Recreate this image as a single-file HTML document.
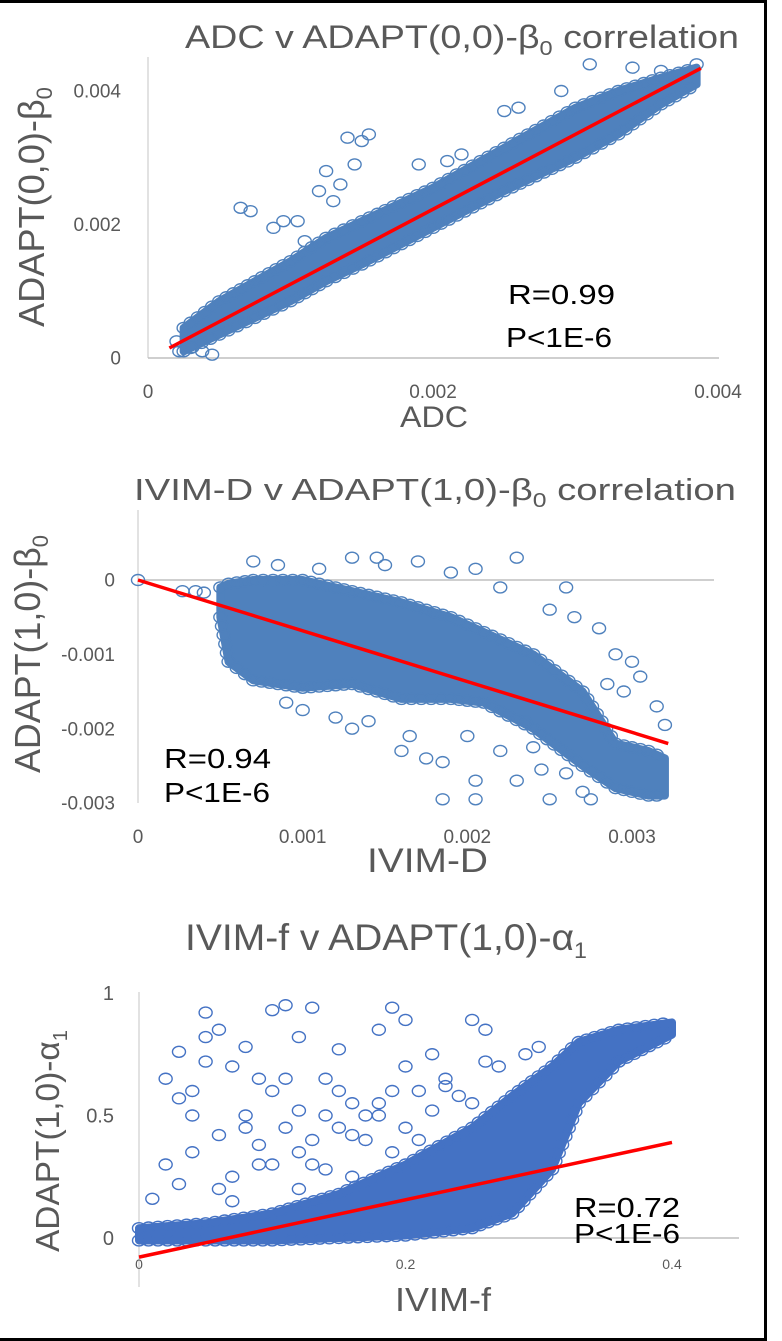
<!DOCTYPE html>
<html><head><meta charset="utf-8"><style>
html,body{margin:0;padding:0;background:#fff;}
svg{display:block;font-family:"Liberation Sans",sans-serif;}
</style></head><body>
<svg id="fig" width="782" height="1341" viewBox="0 0 782 1341" xmlns="http://www.w3.org/2000/svg">
<rect x="0" y="0" width="782" height="1341" fill="#fff"/>
<path d="M0 1.5H765.5V1339.5H0" fill="none" stroke="#000" stroke-width="3"/>

<g>
<text x="185" y="48" font-size="32" fill="#595959" textLength="554" lengthAdjust="spacingAndGlyphs">ADC v ADAPT(0,0)-β<tspan font-size="20" dy="7">0</tspan><tspan dy="-7"> correlation</tspan></text>
<line x1="148" y1="57" x2="148" y2="358" stroke="#d9d9d9" stroke-width="1.5"/>
<line x1="148" y1="358" x2="719" y2="358" stroke="#bfbfbf" stroke-width="1.5"/>
<g id="c1marks"></g>
<g id="c1ticks" fill="#595959" font-size="18"></g>
<text x="400" y="427" font-size="30" fill="#595959" textLength="68" lengthAdjust="spacingAndGlyphs">ADC</text>
<text transform="translate(44,327) rotate(-90)" font-size="36" fill="#595959" textLength="240" lengthAdjust="spacingAndGlyphs">ADAPT(0,0)-β<tspan font-size="22" dy="8">0</tspan></text>
<text x="508" y="304" font-size="28" fill="#000" textLength="107" lengthAdjust="spacingAndGlyphs">R=0.99</text>
<text x="506" y="347" font-size="28" fill="#000" textLength="106" lengthAdjust="spacingAndGlyphs">P&lt;1E-6</text>
</g>

<g>
<text x="134" y="500" font-size="31" fill="#595959" textLength="602" lengthAdjust="spacingAndGlyphs">IVIM-D v ADAPT(1,0)-β<tspan font-size="20" dy="7">0</tspan><tspan dy="-7"> correlation</tspan></text>
<line x1="138" y1="510" x2="138" y2="803" stroke="#d9d9d9" stroke-width="1.5"/>
<line x1="138" y1="580" x2="714" y2="580" stroke="#bfbfbf" stroke-width="1.5"/>
<g id="c2marks"></g>
<g id="c2ticks" fill="#595959" font-size="18"></g>
<text x="367" y="872" font-size="34" fill="#595959" textLength="121" lengthAdjust="spacingAndGlyphs">IVIM-D</text>
<text transform="translate(40,773) rotate(-90)" font-size="36" fill="#595959" textLength="238" lengthAdjust="spacingAndGlyphs">ADAPT(1,0)-β<tspan font-size="22" dy="8">0</tspan></text>
<text x="164" y="768" font-size="28" fill="#000" textLength="107" lengthAdjust="spacingAndGlyphs">R=0.94</text>
<text x="164" y="802" font-size="28" fill="#000" textLength="106" lengthAdjust="spacingAndGlyphs">P&lt;1E-6</text>
</g>

<g>
<text x="185" y="950" font-size="37" fill="#595959" textLength="402" lengthAdjust="spacingAndGlyphs">IVIM-f v ADAPT(1,0)-α<tspan font-size="22" dy="8">1</tspan></text>
<line x1="139" y1="992" x2="139" y2="1287" stroke="#d9d9d9" stroke-width="1.5"/>
<line x1="139" y1="1238" x2="739" y2="1238" stroke="#bfbfbf" stroke-width="1.5"/>
<g id="c3marks"></g>
<g id="c3ticks" fill="#595959"></g>
<text x="395" y="1311" font-size="33" fill="#595959" textLength="96" lengthAdjust="spacingAndGlyphs">IVIM-f</text>
<text transform="translate(59,1252) rotate(-90)" font-size="33" fill="#595959" textLength="222" lengthAdjust="spacingAndGlyphs">ADAPT(1,0)-α<tspan font-size="20" dy="8">1</tspan></text>
<text x="574" y="1217" font-size="28" fill="#000" textLength="106" lengthAdjust="spacingAndGlyphs">R=0.72</text>
<text x="574" y="1243" font-size="28" fill="#000" textLength="106" lengthAdjust="spacingAndGlyphs">P&lt;1E-6</text>
</g>
</svg>
<script>
var c1XTicks = [0, 0.002, 0.004];
var c1XTickLabels = ["0", "0.002", "0.004"];
var c1YTicks = [0, 0.002, 0.004];
var c1YTickLabels = ["0", "0.002", "0.004"];
var c1BandX  = [0.25, 0.5, 0.75, 1.0, 1.25, 1.5, 2.0, 2.5, 3.0, 3.3, 3.6, 3.85];
var c1BandLo = [0.1, 0.35, 0.6, 0.85, 1.15, 1.4, 1.95, 2.5, 3.0, 3.35, 3.8, 4.1];
var c1BandHi = [0.45, 0.85, 1.15, 1.45, 1.8, 2.05, 2.55, 3.15, 3.75, 4.0, 4.2, 4.35];
var c1OutX = [0.2, 0.3, 0.45, 0.38, 0.22, 0.65, 0.72, 0.95, 1.05, 0.88, 1.2, 1.25, 1.35, 1.4, 1.55, 1.5, 1.3, 1.45, 1.9, 2.1, 2.5, 2.6, 2.9, 3.1, 3.4, 3.6, 3.7, 3.85, 2.2, 1.1];
var c1OutY = [0.25, 0.15, 0.05, 0.1, 0.1, 2.25, 2.2, 2.05, 2.05, 1.95, 2.5, 2.8, 2.6, 3.3, 3.35, 3.25, 2.35, 2.9, 2.9, 2.95, 3.7, 3.75, 4.0, 4.4, 4.35, 4.3, 4.15, 4.4, 3.05, 1.75];
var c1Fit = [[0.15, 0.15], [3.88, 4.34]];

var c2XTicks = [0, 0.001, 0.002, 0.003];
var c2XTickLabels = ["0", "0.001", "0.002", "0.003"];
var c2YTicks = [0, -0.001, -0.002, -0.003];
var c2YTickLabels = ["0", "-0.001", "-0.002", "-0.003"];
var c2BandX  = [0.5, 0.55, 0.7, 1.0, 1.3, 1.6, 1.9, 2.1, 2.4, 2.7, 2.9, 3.1, 3.2];
var c2BandLo = [-0.5, -1.1, -1.35, -1.45, -1.4, -1.6, -1.6, -1.65, -2.0, -2.5, -2.8, -2.9, -2.9];
var c2BandHi = [-0.1, -0.05, 0.0, 0.0, -0.15, -0.3, -0.5, -0.7, -1.0, -1.5, -2.2, -2.3, -2.4];
var c2OutX = [0.0, 0.27, 0.4, 0.35, 0.7, 0.85, 1.3, 1.45, 1.7, 2.3, 2.05, 1.9, 2.2, 2.6, 2.8, 2.9, 3.0, 2.95, 3.15, 3.2, 1.0, 1.3, 1.6, 1.75, 1.85, 1.85, 2.05, 2.05, 2.2, 2.3, 2.5, 2.6, 2.7, 2.75, 2.4, 1.4, 2.65, 2.5, 1.1, 1.5, 0.9, 2.35, 3.05, 1.2, 1.65, 2.0, 2.45, 2.85];
var c2OutY = [0.0, -0.15, -0.17, -0.15, 0.25, 0.2, 0.3, 0.3, 0.25, 0.3, 0.15, 0.1, -0.1, -0.1, -0.65, -1.0, -1.1, -1.5, -1.7, -1.95, -1.75, -2.0, -2.3, -2.4, -2.45, -2.95, -2.7, -2.95, -2.3, -2.7, -2.95, -2.6, -2.85, -2.95, -2.25, -1.9, -0.5, -0.4, 0.15, 0.2, -1.65, -1.9, -1.3, -1.85, -2.1, -2.1, -2.55, -1.4];
var c2Fit = [[0, 0], [3.22, -2.2]];

var c3XTicks = [0, 0.2, 0.4];
var c3XTickLabels = ["0", "0.2", "0.4"];
var c3YTicks = [0, 0.5, 1];
var c3YTickLabels = ["0", "0.5", "1"];
var c3BandX  = [0.0, 0.05, 0.1, 0.15, 0.2, 0.25, 0.28, 0.31, 0.33, 0.36, 0.4];
var c3BandLo = [-0.01, -0.01, -0.01, 0.0, 0.01, 0.04, 0.1, 0.28, 0.55, 0.72, 0.83];
var c3BandHi = [0.04, 0.06, 0.1, 0.18, 0.3, 0.45, 0.58, 0.7, 0.8, 0.85, 0.88];
var c3OutX = [0.05, 0.06, 0.08, 0.1, 0.11, 0.13, 0.12, 0.15, 0.19, 0.2, 0.25, 0.26, 0.03, 0.03, 0.04, 0.07, 0.09, 0.1, 0.14, 0.16, 0.18, 0.2, 0.22, 0.08, 0.12, 0.05, 0.02, 0.04, 0.06, 0.11, 0.13, 0.17, 0.15, 0.09, 0.07, 0.14, 0.19, 0.03, 0.01, 0.06, 0.1, 0.12, 0.16, 0.18, 0.21, 0.08, 0.02, 0.13, 0.05, 0.11, 0.17, 0.09, 0.04, 0.15, 0.07, 0.2, 0.22, 0.24, 0.18, 0.23, 0.27, 0.29, 0.3, 0.34, 0.36, 0.32, 0.21, 0.25, 0.19, 0.16, 0.23, 0.26, 0.14, 0.12];
var c3OutY = [0.92, 0.85, 0.78, 0.93, 0.95, 0.94, 0.82, 0.77, 0.94, 0.89, 0.89, 0.85, 0.76, 0.57, 0.6, 0.7, 0.65, 0.6, 0.65, 0.55, 0.85, 0.7, 0.75, 0.5, 0.52, 0.72, 0.3, 0.35, 0.42, 0.45, 0.4, 0.4, 0.6, 0.3, 0.25, 0.28, 0.35, 0.22, 0.16, 0.2, 0.3, 0.2, 0.25, 0.55, 0.6, 0.45, 0.65, 0.3, 0.82, 0.65, 0.5, 0.38, 0.5, 0.45, 0.15, 0.45, 0.52, 0.58, 0.5, 0.62, 0.7, 0.75, 0.78, 0.7, 0.72, 0.62, 0.4, 0.55, 0.6, 0.42, 0.65, 0.72, 0.5, 0.35];
var c3Fit = [[0, -0.078], [0.4, 0.39]];

var NS = "http://www.w3.org/2000/svg";
function lin(d0, d1, p0, p1) { return function (v) { return p0 + (v - d0) * (p1 - p0) / (d1 - d0); }; }

function drawChart(idx, sx, sy, scale, bx, lo, hi, ox, oy, fit, color) {
  var g = document.getElementById("c" + idx + "marks");
  var pts = [];
  for (var i = 0; i < bx.length; i++) pts.push(sx(bx[i] * scale) + "," + sy(hi[i] * scale));
  for (var j = bx.length - 1; j >= 0; j--) pts.push(sx(bx[j] * scale) + "," + sy(lo[j] * scale));
  var poly = document.createElementNS(NS, "polygon");
  poly.setAttribute("points", pts.join(" "));
  poly.setAttribute("fill", color);
  poly.setAttribute("stroke", color);
  poly.setAttribute("stroke-width", "8");
  poly.setAttribute("stroke-linejoin", "round");
  
  
  g.appendChild(poly);
  function edge(arr) {
    for (var k = 0; k < bx.length - 1; k++) {
      var xa = sx(bx[k] * scale), ya = sy(arr[k] * scale), xb = sx(bx[k + 1] * scale), yb = sy(arr[k + 1] * scale);
      var n = Math.max(1, Math.round(Math.hypot(xb - xa, yb - ya) / 9));
      for (var s = 0; s < n; s++) {
        var t = s / n;
        var e = document.createElementNS(NS, "ellipse");
        e.setAttribute("cx", xa + (xb - xa) * t);
        e.setAttribute("cy", ya + (yb - ya) * t);
        e.setAttribute("rx", 6.5); e.setAttribute("ry", 5.5);
        e.setAttribute("fill", "none"); e.setAttribute("stroke", color); e.setAttribute("stroke-width", "1.4");
        
        
        g.appendChild(e);
      }
    }
  }
  edge(hi); edge(lo);
  for (var m = 0; m < ox.length; m++) {
    var c = document.createElementNS(NS, "ellipse");
    c.setAttribute("cx", sx(ox[m] * scale));
    c.setAttribute("cy", sy(oy[m] * scale));
    c.setAttribute("rx", 6.5); c.setAttribute("ry", 5.5);
    c.setAttribute("fill", "none"); c.setAttribute("stroke", color); c.setAttribute("stroke-width", "1.4");
    
    
    g.appendChild(c);
  }
  var l = document.createElementNS(NS, "line");
  l.setAttribute("x1", sx(fit[0][0] * scale)); l.setAttribute("y1", sy(fit[0][1] * scale));
  l.setAttribute("x2", sx(fit[1][0] * scale)); l.setAttribute("y2", sy(fit[1][1] * scale));
  l.setAttribute("stroke", "#ff0000"); l.setAttribute("stroke-width", "3.5");
  
  
  g.appendChild(l);
}

function drawTicks(idx, sx, sy, xt, xl, yt, yl, xBase, yRight, fs, xfs) {
  var g = document.getElementById("c" + idx + "ticks");
  for (var i = 0; i < xt.length; i++) {
    var t = document.createElementNS(NS, "text");
    t.setAttribute("x", sx(xt[i])); t.setAttribute("y", xBase);
    t.setAttribute("text-anchor", "middle"); t.setAttribute("font-size", xfs);
    t.textContent = xl[i];
    
    
    g.appendChild(t);
  }
  for (var j = 0; j < yt.length; j++) {
    var u = document.createElementNS(NS, "text");
    u.setAttribute("x", yRight); u.setAttribute("y", sy(yt[j]) + fs * 0.35);
    u.setAttribute("text-anchor", "end"); u.setAttribute("font-size", fs);
    u.textContent = yl[j];
    
    
    g.appendChild(u);
  }
}

var s1x = lin(0, 0.004, 148, 718), s1y = lin(0, 0.004, 358, 91);
drawChart(1, s1x, s1y, 0.001, c1BandX, c1BandLo, c1BandHi, c1OutX, c1OutY, c1Fit, "#4f81bd");
drawTicks(1, s1x, s1y, c1XTicks, c1XTickLabels, c1YTicks, c1YTickLabels, 398, 121, 19, 19);

var s2x = lin(0, 0.003, 138, 632), s2y = lin(0, -0.003, 580, 803);
drawChart(2, s2x, s2y, 0.001, c2BandX, c2BandLo, c2BandHi, c2OutX, c2OutY, c2Fit, "#4f81bd");
drawTicks(2, s2x, s2y, c2XTicks, c2XTickLabels, c2YTicks, c2YTickLabels, 843, 115, 19, 19);

var s3x = lin(0, 0.4, 139, 672), s3y = lin(0, 1, 1238, 993);
drawChart(3, s3x, s3y, 1, c3BandX, c3BandLo, c3BandHi, c3OutX, c3OutY, c3Fit, "#4472c4");
drawTicks(3, s3x, s3y, c3XTicks, c3XTickLabels, c3YTicks, c3YTickLabels, 1269, 114, 20, 14);
</script>
</body></html>
